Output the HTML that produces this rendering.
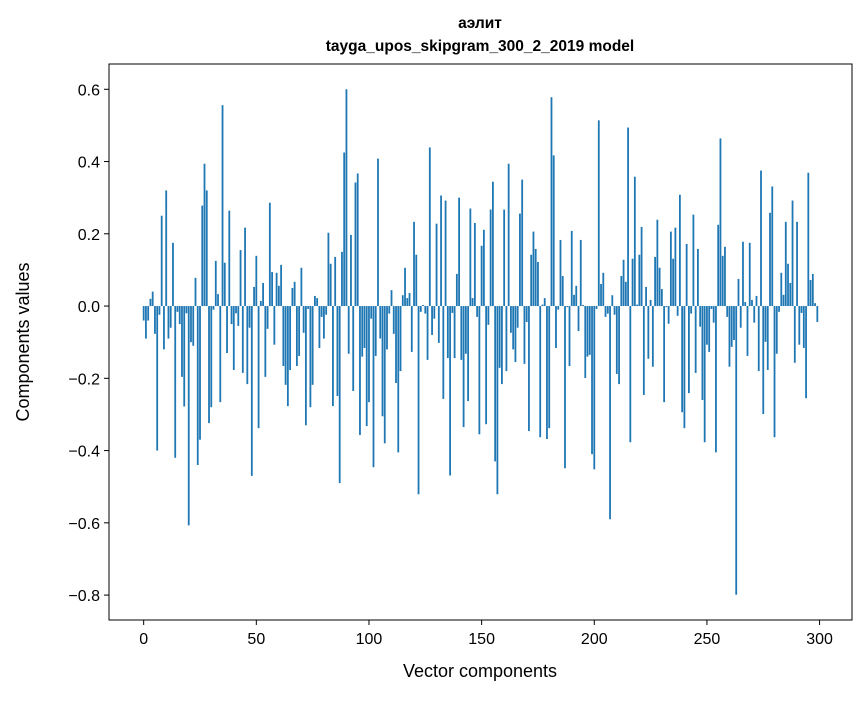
<!DOCTYPE html>
<html><head><meta charset="utf-8"><style>
body{margin:0;background:#fff}
svg text{font-family:"Liberation Sans","DejaVu Sans",sans-serif;fill:#000}
</style></head><body>
<svg id="chart" width="867" height="696" xmlns="http://www.w3.org/2000/svg">
<rect width="867" height="696" fill="#fff"/>
<text x="480" y="28" text-anchor="middle" font-size="15.5" font-weight="bold">аэлит</text>
<text x="480" y="51" text-anchor="middle" font-size="15.5" font-weight="bold">tayga_upos_skipgram_300_2_2019 model</text>
<g id="bars"></g>
<g id="xticks"></g>
<g id="yticks"></g>
<rect x="109" y="64" width="743" height="556" fill="none" stroke="#000" stroke-width="1"/>
<text x="480" y="677" text-anchor="middle" font-size="18">Vector components</text>
<text transform="translate(29,342) rotate(-90)" text-anchor="middle" font-size="18">Components values</text>
</svg>
<script>
const values = [
-0.04,-0.09,-0.04,0.02,0.04,-0.077,-0.40,-0.024,0.25,-0.12,
0.32,-0.09,-0.06,0.175,-0.42,-0.016,-0.05,-0.196,-0.278,-0.02,
-0.607,-0.10,-0.11,0.078,-0.44,-0.37,0.278,0.394,0.32,-0.324,
-0.28,-0.01,0.125,0.033,-0.266,0.556,0.12,-0.13,0.264,-0.05,
-0.177,-0.02,-0.055,0.155,-0.185,0.217,-0.216,-0.06,-0.47,0.053,
0.139,-0.338,0.014,0.064,-0.196,-0.063,0.286,0.094,-0.107,0.092,
0.056,0.114,-0.166,-0.218,-0.277,-0.177,0.05,0.067,-0.166,-0.138,
0.106,-0.074,-0.33,-0.008,-0.28,-0.218,0.028,0.022,-0.116,-0.03,
-0.09,-0.024,0.203,0.117,-0.277,0.136,-0.249,-0.49,0.15,0.425,
0.6,-0.132,0.197,-0.235,0.342,0.367,-0.357,-0.14,-0.116,-0.332,
-0.266,-0.035,-0.446,-0.138,0.408,-0.09,-0.305,-0.38,-0.12,-0.021,
0.044,-0.077,-0.213,-0.405,-0.18,0.03,0.106,0.022,0.036,-0.127,
0.233,0.142,-0.521,-0.016,0.003,-0.021,-0.149,0.439,-0.08,-0.035,
0.228,-0.102,0.306,-0.257,0.292,-0.144,-0.469,-0.019,-0.144,0.089,
0.3,-0.149,-0.335,-0.132,-0.263,0.27,0.022,0.23,-0.03,-0.355,
0.167,0.211,-0.327,-0.052,0.267,0.344,-0.43,-0.521,-0.171,-0.216,
0.267,-0.18,0.394,-0.074,-0.12,-0.155,-0.06,0.256,0.35,-0.16,
-0.044,-0.346,0.142,0.206,0.158,0.122,-0.363,0.004,0.022,-0.368,
-0.338,0.578,0.417,-0.116,-0.01,0.183,0.083,-0.449,-0.003,-0.166,
0.208,0.031,0.056,-0.069,0.183,0.003,-0.199,-0.14,-0.135,-0.41,
-0.452,-0.008,0.514,0.061,0.092,-0.03,-0.021,-0.59,0.03,-0.024,
-0.188,-0.216,0.083,0.128,0.067,0.494,-0.377,0.131,0.358,0.004,
0.142,0.219,-0.246,0.053,-0.146,0.017,-0.168,0.136,0.239,0.106,
0.047,-0.266,-0.003,-0.049,0.206,0.131,0.217,-0.027,0.308,-0.294,
-0.338,0.172,-0.241,-0.021,0.253,-0.185,0.158,-0.057,-0.26,-0.377,
-0.107,-0.127,-0.008,-0.046,-0.405,0.225,0.464,0.139,0.164,-0.03,
-0.168,-0.113,-0.094,-0.799,0.075,-0.06,0.178,0.011,-0.138,0.175,
0.017,-0.046,0.028,-0.18,0.375,-0.299,-0.099,-0.177,0.258,0.331,
-0.363,-0.132,-0.016,0.092,0.031,0.233,0.117,0.064,0.292,-0.157,
0.233,-0.107,-0.019,-0.116,-0.255,0.369,0.072,0.089,0.008,-0.044
];
const xTicks = [0,50,100,150,200,250,300];
const yTicks = [-0.8,-0.6,-0.4,-0.2,0.0,0.2,0.4,0.6];

const NS = "http://www.w3.org/2000/svg";
const L=109,R=852,T=64,B=620;
const n = values.length;
const xmin=-0.4, xmax=n-1+0.4, xpad=(xmax-xmin)*0.05;
const x0=xmin-xpad, x1=xmax+xpad;
const vmin=Math.min(0,...values), vmax=Math.max(0,...values), ypad=(vmax-vmin)*0.05;
const y0=vmin-ypad, y1=vmax+ypad;
const sx=v=>L+(v-x0)/(x1-x0)*(R-L);
const sy=v=>B-(v-y0)/(y1-y0)*(B-T);

const gb=document.getElementById('bars');
values.forEach((v,i)=>{
  const r=document.createElementNS(NS,'rect');
  const xa=sx(i-0.4), xb=sx(i+0.4);
  const ya=sy(Math.max(v,0)), yb=sy(Math.min(v,0));
  r.setAttribute('x',xa); r.setAttribute('width',xb-xa);
  r.setAttribute('y',ya); r.setAttribute('height',Math.max(yb-ya,0.01));
  r.setAttribute('fill','#1f77b4');
  
  
  gb.appendChild(r);
});
const gx=document.getElementById('xticks');
xTicks.forEach(t=>{
  const X=sx(t);
  const l=document.createElementNS(NS,'line');
  l.setAttribute('x1',X);l.setAttribute('x2',X);l.setAttribute('y1',B);l.setAttribute('y2',B+5);
  l.setAttribute('stroke','#000');
  
  
  gx.appendChild(l);
  const tx=document.createElementNS(NS,'text');
  tx.setAttribute('x',X);tx.setAttribute('y',B+24);tx.setAttribute('text-anchor','middle');tx.setAttribute('font-size','16');
  tx.textContent=String(t);
  
  
  gx.appendChild(tx);
});
const gy=document.getElementById('yticks');
yTicks.forEach(t=>{
  const Y=sy(t);
  const l=document.createElementNS(NS,'line');
  l.setAttribute('x1',L-5);l.setAttribute('x2',L);l.setAttribute('y1',Y);l.setAttribute('y2',Y);
  l.setAttribute('stroke','#000');
  
  
  gy.appendChild(l);
  const tx=document.createElementNS(NS,'text');
  tx.setAttribute('x',L-9);tx.setAttribute('y',Y+6);tx.setAttribute('text-anchor','end');tx.setAttribute('font-size','16');
  tx.textContent=(t<0?'\u2212':'')+Math.abs(t).toFixed(1);
  
  
  gy.appendChild(tx);
});
</script>
</body></html>
